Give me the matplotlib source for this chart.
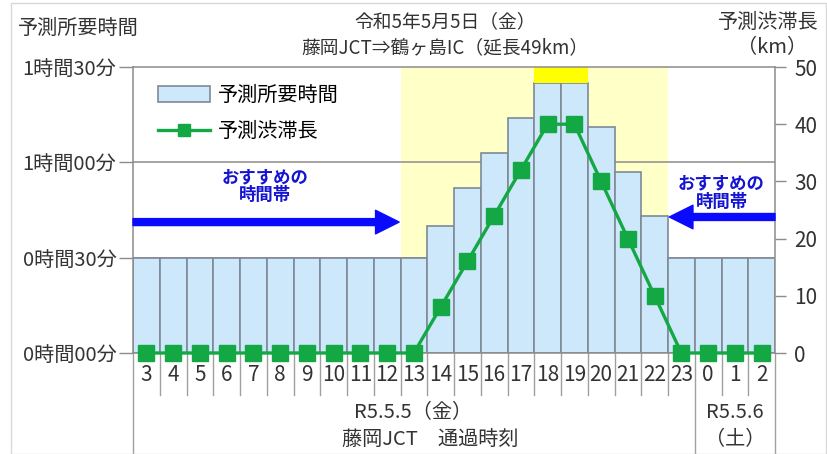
import matplotlib.pyplot as plt
from matplotlib.lines import Line2D
from matplotlib.patches import Patch, Rectangle

plt.rcParams['font.family'] = ['Noto Sans CJK JP', 'DejaVu Sans']

# --- données ---
hours = ['3', '4', '5', '6', '7', '8', '9', '10', '11', '12', '13', '14',
         '15', '16', '17', '18', '19', '20', '21', '22', '23', '0', '1', '2']
minutes = [30, 30, 30, 30, 30, 30, 30, 30, 30, 30, 30, 40,
           52, 63, 74, 85, 85, 71, 57, 43, 30, 30, 30, 30]
jam_km = [0, 0, 0, 0, 0, 0, 0, 0, 0, 0, 0, 8,
          16, 24, 32, 40, 40, 30, 20, 10, 0, 0, 0, 0]
time_ticks = [0, 30, 60, 90]
time_labels = ['0時間00分', '0時間30分', '1時間00分', '1時間30分']
km_ticks = [0, 10, 20, 30, 40, 50]
peak_idx = [15, 16]          # 18時, 19時
busy_span = (10, 19)         # 13時 .. 22時

W, H = 827, 454
fig = plt.figure(figsize=(W / 100, H / 100), dpi=100)
ax = fig.add_axes([133 / W, 1 - 353 / H, (775 - 133) / W, (353 - 67) / H])

GRAY = '#8c8c8c'
BLUE = '#0a0aff'
GREEN = '#14a844'
TXT = '#333333'
FS = 14.5

x = list(range(len(hours)))

# zone jaune (heures chargées)
ax.add_patch(Rectangle((busy_span[0] - 0.5, 30), busy_span[1] - busy_span[0] + 1, 60,
                       facecolor='#ffffc8', edgecolor='none', zorder=0))
ax.bar(x, minutes, width=1.0, color='#cce8fa', edgecolor='#7f8a96', linewidth=1.2, zorder=2)
ax.bar(peak_idx, [90 - minutes[i] for i in peak_idx], bottom=[minutes[i] for i in peak_idx],
       width=1.0, color='#ffff00', edgecolor='none', zorder=2)

ax.set_xlim(-0.5, len(hours) - 0.5)
ax.set_ylim(0, 90)
ax.set_yticks(time_ticks)
ax.set_yticklabels(time_labels, fontsize=FS, color=TXT)
ax.tick_params(axis='y', length=10, width=1, color=GRAY, pad=2)
for t in (30, 60):
    ax.axhline(t, color=GRAY, linewidth=1.1, zorder=1)

ax.set_xticks(x)
ax.set_xticklabels(hours, fontsize=15, color=TXT)
ax.tick_params(axis='x', length=0, pad=8)
for s in ax.spines.values():
    s.set_color(GRAY)
    s.set_linewidth(1.1)

# lignes du tableau sous l'axe
tr = ax.get_xaxis_transform()
for i in range(len(hours) + 1):
    xe = i - 0.5
    low = -0.353 if i in (0, 21, 24) else -0.147
    ax.plot([xe, xe], [0, low], transform=tr, color='#a0a0a0', linewidth=1, clip_on=False)

# flèches "おすすめの時間帯"
ax.annotate('', xy=(9.45, 41.2), xytext=(-0.5, 41.2),
            arrowprops=dict(width=5, headwidth=17, headlength=17, color=BLUE, shrink=0))
ax.annotate('', xy=(19.55, 42.8), xytext=(23.5, 42.8),
            arrowprops=dict(width=5, headwidth=17, headlength=17, color=BLUE, shrink=0))
ax.text(4.45, 52.5, 'おすすめの\n時間帯', ha='center', va='center', fontsize=12.5,
        fontweight='bold', color='#1414d2', linespacing=1.0)
ax.text(21.5, 50.5, 'おすすめの\n時間帯', ha='center', va='center', fontsize=12.5,
        fontweight='bold', color='#1414d2', linespacing=1.0)

# 渋滞長 (axe droit)
ax2 = ax.twinx()
ax2.plot(x, jam_km, color=GREEN, linewidth=2.4, marker='s', markersize=12, zorder=5,
         clip_on=False)
ax2.set_ylim(0, 50)
ax2.set_yticks(km_ticks)
ax2.tick_params(axis='y', length=8, width=1, color=GRAY, labelsize=15, labelcolor=TXT, pad=6)
for s in ax2.spines.values():
    s.set_visible(False)

handles = [Patch(facecolor='#cce8fa', edgecolor='#7f8a96', linewidth=1.2),
           Line2D([], [], color=GREEN, linewidth=2.4, marker='s', markersize=8)]
ax2.legend(handles, ['予測所要時間', '予測渋滞長'], loc='upper left',
           bbox_to_anchor=(0.01, 1.0), frameon=False, fontsize=FS,
           handlelength=2.6, handleheight=0.8, handletextpad=0.4, labelspacing=0.75)

# textes de la figure
fig.text(445 / W, 1 - 22 / H, '令和5年5月5日（金）', ha='center', va='center', fontsize=13.5, color=TXT)
fig.text(445 / W, 1 - 48 / H, '藤岡JCT⇒鶴ヶ島IC（延長49km）', ha='center', va='center', fontsize=13.5, color=TXT)
fig.text(18 / W, 1 - 28 / H, '予測所要時間', ha='left', va='center', fontsize=FS, color=TXT)
fig.text(819 / W, 1 - 22 / H, '予測渋滞長', ha='right', va='center', fontsize=FS, color=TXT)
fig.text(772 / W, 1 - 48 / H, '（km）', ha='center', va='center', fontsize=FS, color=TXT)
fig.text(413 / W, 1 - 413 / H, 'R5.5.5（金）', ha='center', va='center', fontsize=FS, color=TXT)
fig.text(430 / W, 1 - 440 / H, '藤岡JCT　通過時刻', ha='center', va='center', fontsize=FS, color=TXT)
fig.text(735 / W, 1 - 413 / H, 'R5.5.6', ha='center', va='center', fontsize=FS, color=TXT)
fig.text(735 / W, 1 - 440 / H, '（土）', ha='center', va='center', fontsize=FS, color=TXT)

fig.patches.append(Rectangle((11 / W, 0), 1 - 12 / W, 1 - 3 / H, transform=fig.transFigure,
                             facecolor='none', edgecolor='#d8d8d8', linewidth=1))

fig.savefig('out.png', dpi=100)
